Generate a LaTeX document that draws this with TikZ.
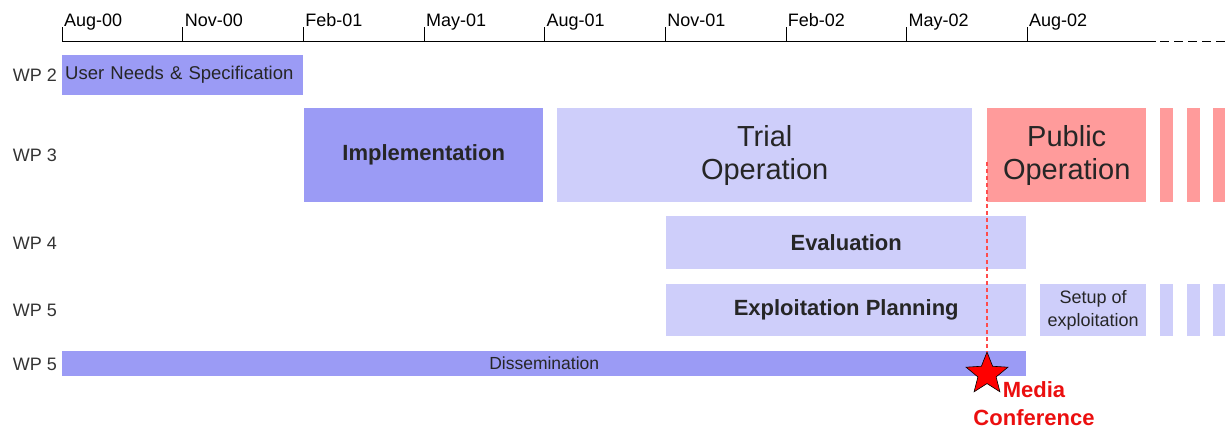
\documentclass[tikz,border=0pt]{standalone}
\usepackage{fontspec}
\setmainfont{Liberation Sans}
\usetikzlibrary{shapes.geometric}

\definecolor{wpdark}{RGB}{155,155,245}
\definecolor{wplight}{RGB}{206,206,250}
\definecolor{wppink}{RGB}{255,155,155}
\definecolor{mediared}{RGB}{235,15,15}

\begin{document}
\begin{tikzpicture}[
    x=1pt,y=-1pt,
    bar/.style={fill=#1,inner sep=0pt,anchor=north west,align=center,text=black!85},
    month/.style={inner xsep=2pt,inner ysep=0pt,font=\fontsize{18}{20}\selectfont},
    wp/.style={font=\fontsize{18}{20}\selectfont,text=black!80},
    big/.style={font=\fontsize{29}{33}\selectfont},
    head/.style={font=\fontsize{22}{26}\selectfont\bfseries},
    small/.style={font=\fontsize{18}{23}\selectfont}
]
\useasboundingbox (0,0) rectangle (1225,430);

% time axis
\draw[thick] (62,41) -- (1156,41);
\draw[thick,dash pattern=on 9pt off 5pt] (1160,41) -- (1225,41);
\foreach \m [count=\i from 0] in {Aug-00,Nov-00,Feb-01,May-01,Aug-01,Nov-01,Feb-02,May-02,Aug-02}
  \draw (62+120.625*\i,41) -- ++(0,-14) node[month,anchor=base west] (m\i) {\m};

% work packages
\node[wp] (wp2) at (35,75) {WP 2};
\node[wp] (wp3) at (35,155) {WP 3};
\node[wp] (wp4) at (35,243) {WP 4};
\node[wp] (wp5a) at (35,310) {WP 5};
\node[wp] (wp5b) at (35,364) {WP 5};

\node[bar=wpdark,minimum width=241pt,minimum height=40pt,text width=235pt,inner xsep=3pt,align=left,
      font=\fontsize{18.5}{22}\selectfont] (needs) at (62,55) {User Needs \& Specification};

\node[bar=wpdark,minimum width=239pt,minimum height=94pt,head] (impl) at (304,108) {Implementation};
\node[bar=wplight,minimum width=415pt,minimum height=94pt,big] (trial) at (557,108) {Trial\\Operation};
\node[bar=wppink,minimum width=159pt,minimum height=94pt,big] (public) at (987,108) {Public\\Operation};

\node[bar=wplight,minimum width=360pt,minimum height=53pt,head] (eval) at (666,216) {Evaluation};

\node[bar=wplight,minimum width=360pt,minimum height=52pt,head] (plan) at (666,284) {Exploitation Planning};
\node[bar=wplight,minimum width=106pt,minimum height=52pt,small] (setup) at (1040,284) {Setup of\\exploitation};

\node[bar=wpdark,minimum width=964pt,minimum height=25pt,font=\fontsize{17.5}{20}\selectfont] (diss) at (62,351) {Dissemination};

% continuing stripes
\foreach \x in {1160,1187,1213} {
  \fill[wppink] (\x,108) rectangle ++(13,94);
  \fill[wplight] (\x,284) rectangle ++(13,52);
}

% media conference
\coordinate (launch) at (987,162);
\node[star,star points=5,star point ratio=2.3,minimum size=44pt,inner sep=0pt,
      fill=red,draw=black,line width=0.6pt] (star) at (987,374) {};
\draw[red!70,line width=1.3pt,dash pattern=on 4pt off 3pt] (launch) -- (star);
\node[text=mediared,align=center,font=\fontsize{22}{28}\selectfont\bfseries] (media) at (1034,404) {Media\\Conference};
\end{tikzpicture}
\end{document}
